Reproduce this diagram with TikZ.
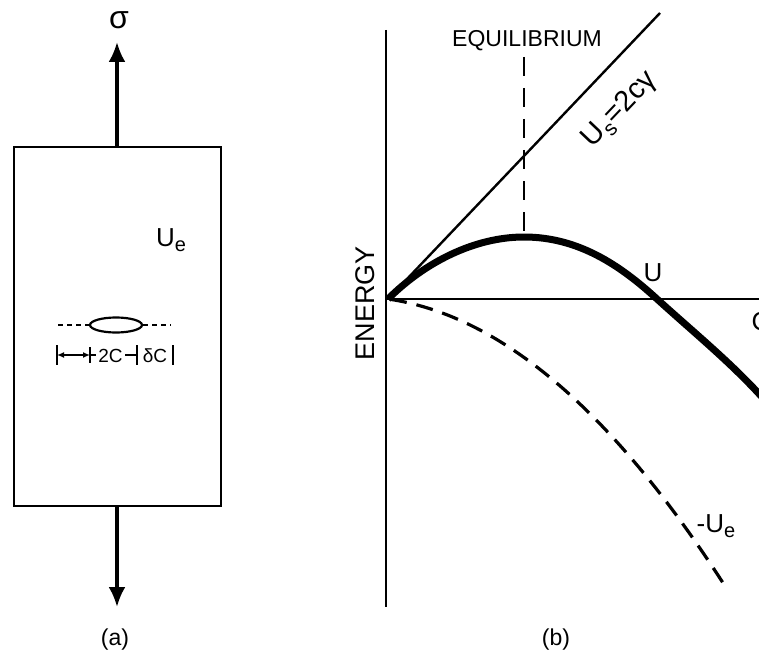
\documentclass[tikz,border=0pt]{standalone}
\usepackage{fontspec}
\setmainfont{Liberation Sans}
\usetikzlibrary{arrows.meta,shapes.geometric}
\begin{document}
\begin{tikzpicture}[x=1pt,y=-1pt,
  thinline/.style={line width=2.4pt},
  force/.style={line width=3.2pt,-{Latex[length=20pt,width=17pt]}},
  lbl/.style={inner sep=0pt,font=\fontsize{23}{23}\selectfont},
  biglbl/.style={inner sep=0pt,font=\fontsize{26}{26}\selectfont},
  dimtick/.style={line width=1.8pt},
  eqdash/.style={line width=2.2pt,dash pattern=on 19pt off 12pt},
  uecurve/.style={line width=3.2pt,dash pattern=on 17pt off 10pt},
  ucurve/.style={line width=7pt}]
\useasboundingbox (0,0) rectangle (759,655);

% ---------- panel (a) ----------
\node[draw,thinline,rectangle,minimum width=207pt,minimum height=359pt,inner sep=0pt] (box) at (117.5,326.5) {};
\coordinate (topend) at (117,42);
\coordinate (botend) at (117,607);
\draw[force] (box.north -| topend) -- (topend);
\draw[force] (box.south -| botend) -- (botend);
\node[inner sep=0pt,font=\fontsize{32}{32}\selectfont] (sigma) at (119,20) {σ};
\node[biglbl] (ue) at (171,240) {U\raisebox{-5pt}{\fontsize{20}{20}\selectfont e}};

\node[draw,ellipse,line width=2.2pt,minimum width=52pt,minimum height=15pt,inner sep=0pt] (crack) at (116,325) {};
\coordinate (dl) at (58,325);
\coordinate (dr) at (171,325);
\draw[line width=1.8pt,dash pattern=on 5pt off 4pt] (dl) -- (crack.west);
\draw[line width=1.8pt,dash pattern=on 5pt off 4pt] (crack.east) -- (dr);

% dimension row
\coordinate (t1a) at (57,345); \coordinate (t1b) at (57,365);
\coordinate (t2a) at (90,347); \coordinate (t2b) at (90,363);
\coordinate (t3a) at (137,345); \coordinate (t3b) at (137,365);
\coordinate (t4a) at (173,345); \coordinate (t4b) at (173,365);
\coordinate (m1) at (57,355); \coordinate (m2) at (90,355);
\coordinate (m2b) at (96,355); \coordinate (m3a) at (125,355); \coordinate (m3) at (137,355);
\draw[dimtick] (t1a) -- (t1b);
\draw[dimtick] (t2a) -- (t2b);
\draw[dimtick] (t3a) -- (t3b);
\draw[dimtick] (t4a) -- (t4b);
\draw[dimtick,{Latex[length=7pt,width=6pt]}-{Latex[length=7pt,width=6pt]}] (m1) -- (m2);
\draw[dimtick] (m2) -- (m2b);
\draw[dimtick] (m3a) -- (m3);
\node[inner sep=0pt,font=\fontsize{19}{19}\selectfont] (twoc) at (110.5,356) {2C};
\node[inner sep=0pt,font=\fontsize{19}{19}\selectfont] (dc) at (155,356) {δC};

\node[lbl] (la) at (115,640) {(a)};

% ---------- panel (b) ----------
\coordinate (O) at (388,299);
\coordinate (vtop) at (386,30);
\coordinate (vbot) at (386,607);
\coordinate (hend) at (770,299);
\coordinate (ustop) at (660,13);
\draw[thinline] (vtop) -- (vbot);
\draw[thinline] (vtop |- O) -- (hend);
\draw[thinline] (O) -- (ustop);

\node[lbl] (eq) at (527,41) {EQUILIBRIUM};
\coordinate (eqtop) at (524,57);
\coordinate (eqbot) at (524,233);
\draw[eqdash] (eqtop) -- (eqbot);

\node[inner sep=0pt,font=\fontsize{29}{29}\selectfont,rotate=46.5] (us) at (620,110) {U\raisebox{-6pt}{\fontsize{21}{21}\selectfont s}=2cγ};

\draw[ucurve] (O) .. controls (425,262) and (475,237) .. (524,237)
  .. controls (578,237) and (620,265) .. (657,299)
  .. controls (700,338) and (740,370) .. (775,412);

\draw[uecurve] plot[domain=0.02:3.35,samples=60] ({388+100*\x},{299+14.4*\x+21*\x*\x});

\node[inner sep=0pt,font=\fontsize{27}{27}\selectfont,rotate=90] (energy) at (365,303) {ENERGY};
\node[biglbl] (ulab) at (653,273) {U};
\node[biglbl] (clab) at (761,322) {C};
\node[biglbl] (mue) at (716,526) {-U\raisebox{-5pt}{\fontsize{20}{20}\selectfont e}};

\node[lbl] (lb) at (556,640) {(b)};
\end{tikzpicture}
\end{document}
